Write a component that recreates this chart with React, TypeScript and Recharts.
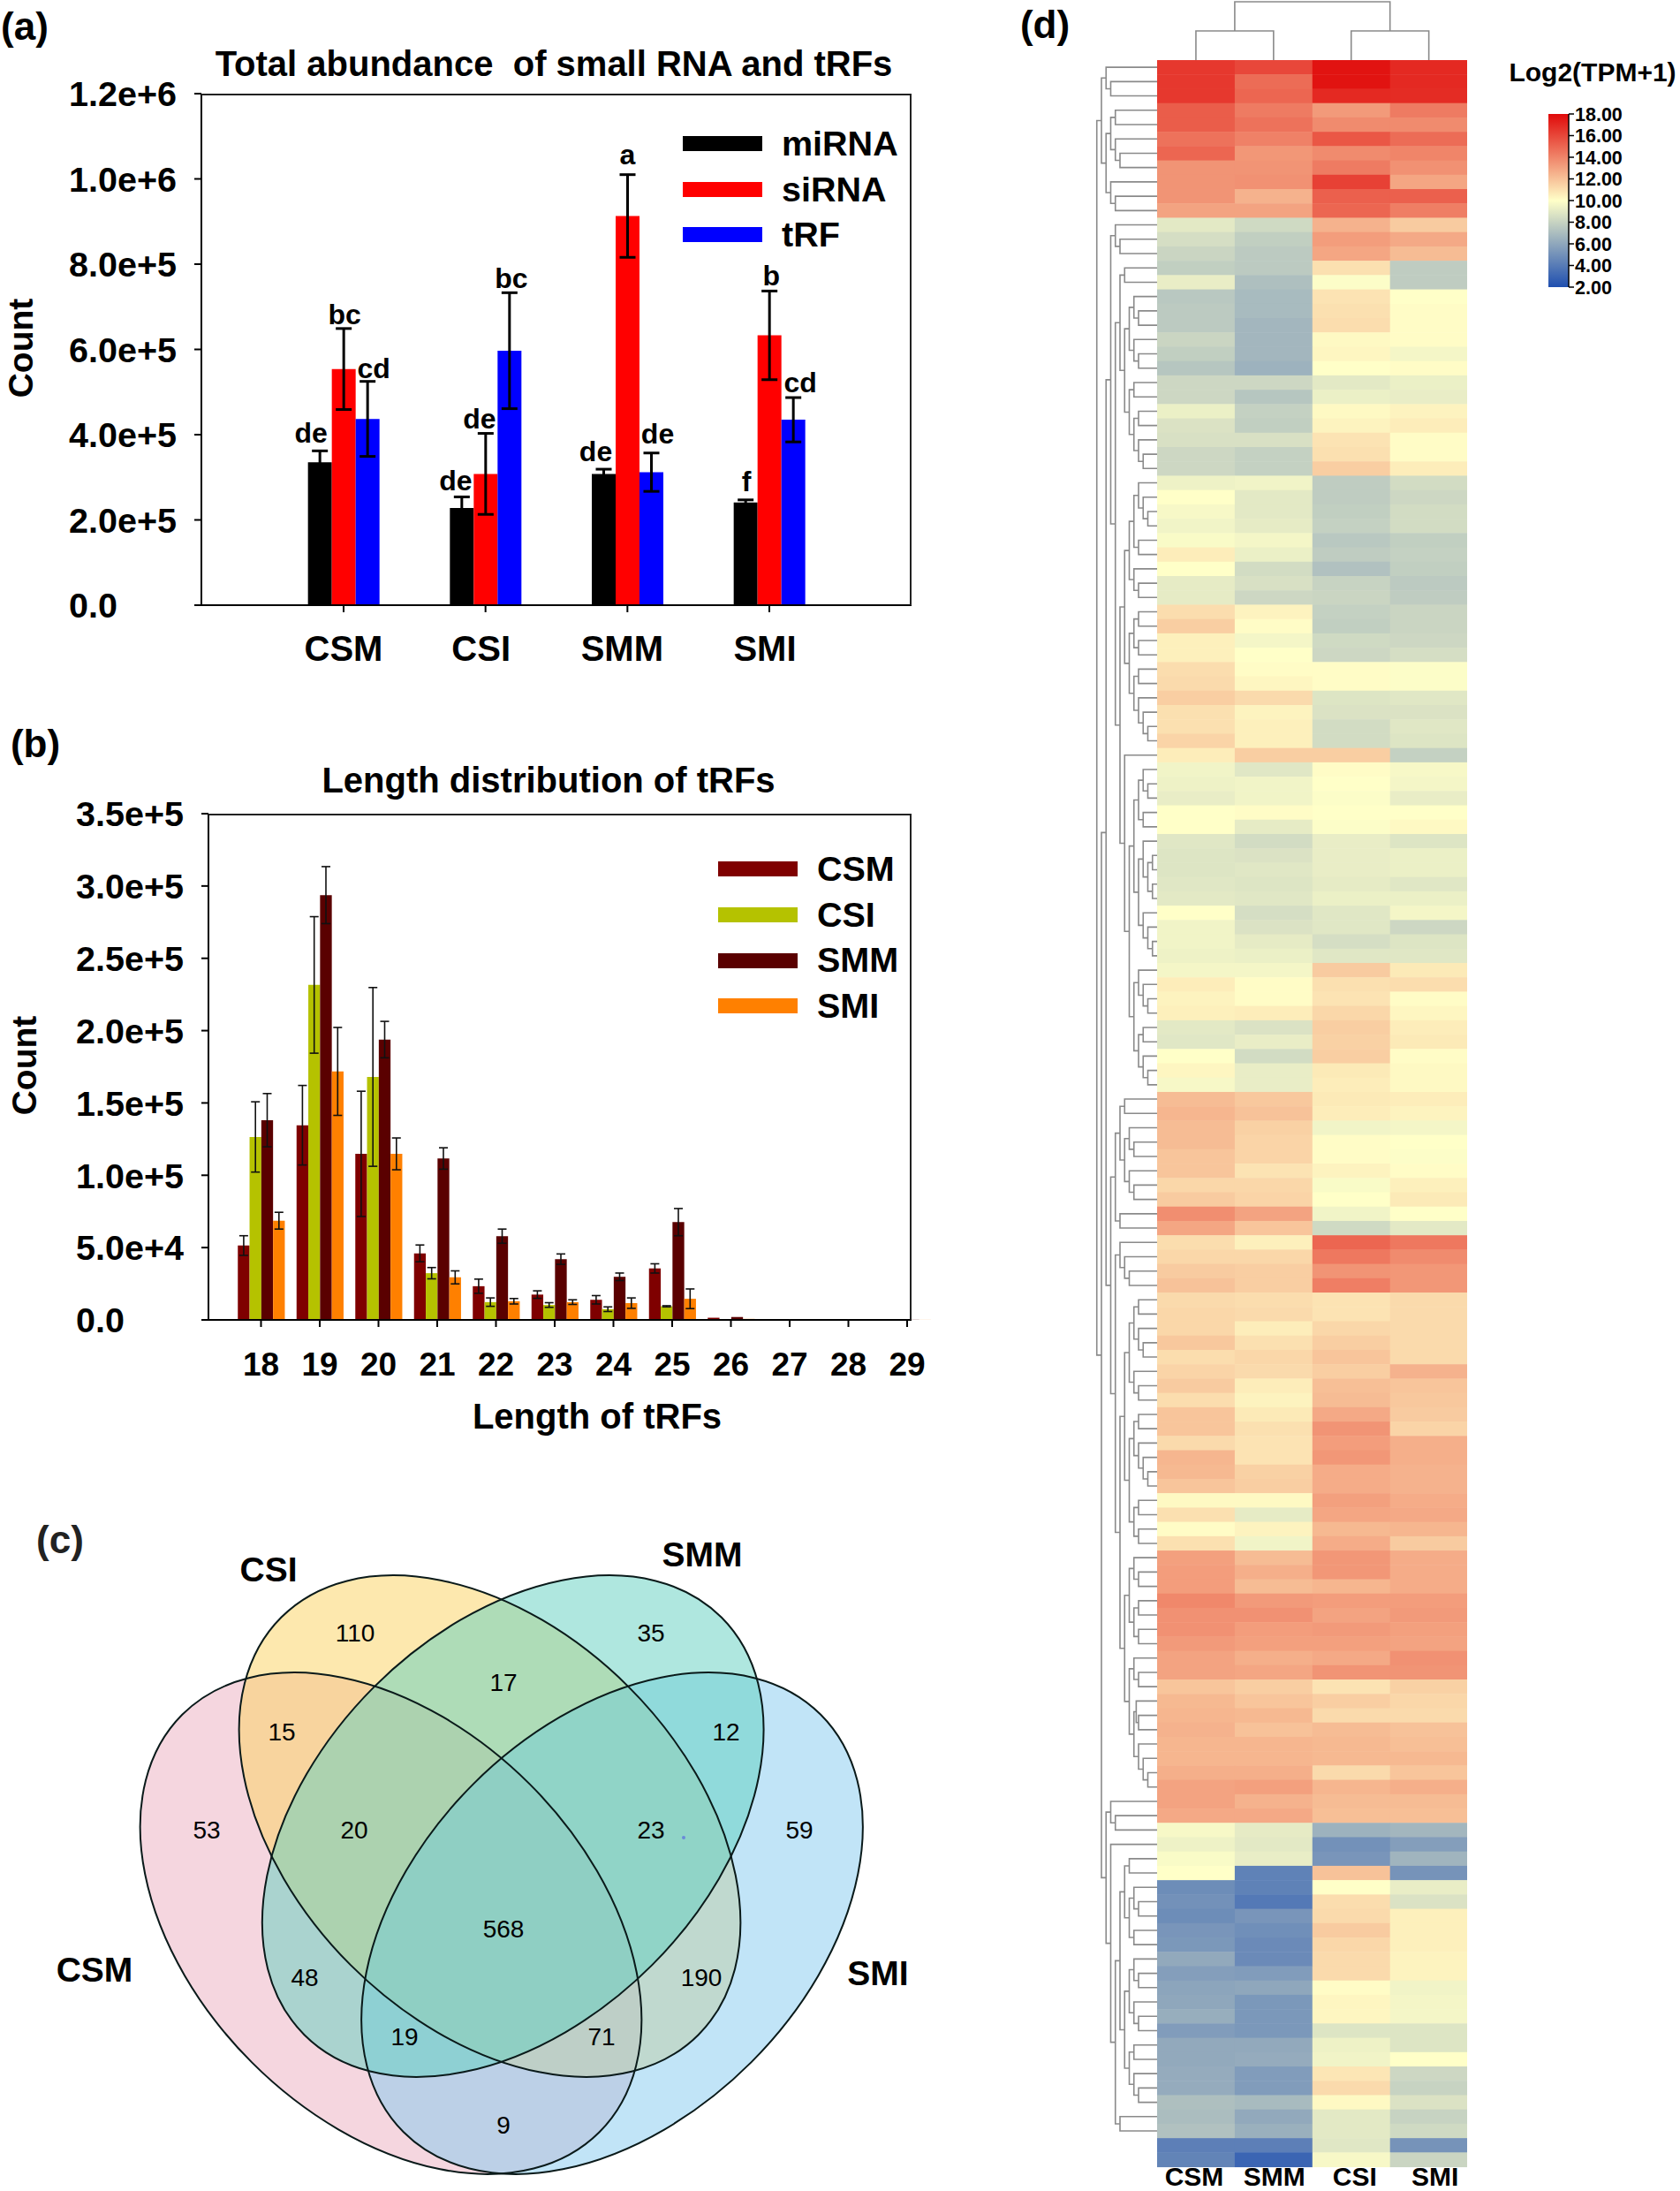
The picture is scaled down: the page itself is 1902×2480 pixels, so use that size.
import {
  BarChart, Bar, XAxis, YAxis, ErrorBar, LabelList, Legend,
  ScatterChart, Scatter, LineChart, Line
} from 'recharts'

const FONT = '"Liberation Sans", Arial, sans-serif'

// panel (a)
const samples = ['CSM', 'CSI', 'SMM', 'SMI']
const miRNA = [335000, 228000, 308000, 241000]
const siRNA = [554000, 308000, 913000, 633000]
const tRF = [437000, 597000, 312000, 435000]
const miRNAErr = [27000, 26000, 11000, 6000]
const siRNAErr = [95000, 95000, 97000, 104000]
const tRFErr = [88000, 136000, 45000, 52000]
const miRNALetters = ['de', 'de', 'de', 'f']
const siRNALetters = ['bc', 'de', 'a', 'b']
const tRFLetters = ['cd', 'bc', 'de', 'cd']
const miRNALetterAt = [382000, 269000, 338000, 267000]
const siRNALetterAt = [660000, 415000, 1034000, 750000]
const tRFLetterAt = [533000, 745000, 379000, 500000]
const abundanceTicks = [0, 200000, 400000, 600000, 800000, 1000000, 1200000]
const abundanceLabels = ['0.0', '2.0e+5', '4.0e+5', '6.0e+5', '8.0e+5', '1.0e+6', '1.2e+6']

// panel (b)
const lengths = ['18', '19', '20', '21', '22', '23', '24', '25', '26', '27', '28', '29']
const lenCSM = [51400, 134600, 114800, 46000, 23300, 17500, 13900, 35600, 1500, 300, 200, 100]
const lenCSI = [126500, 231600, 168000, 32300, 12300, 10300, 7400, 9400, 500, 100, 100, 100]
const lenSMM = [138100, 293700, 193800, 111600, 57900, 42000, 29800, 67600, 2000, 400, 300, 100]
const lenSMI = [68600, 171800, 114800, 29400, 12900, 12300, 11600, 14600, 700, 100, 100, 50]
const lenCSMErr = [6800, 27500, 43300, 5800, 4900, 2600, 2900, 3200, null, null, null, null]
const lenCSIErr = [24300, 47200, 61800, 3900, 2900, 1600, 1600, 400, null, null, null, null]
const lenSMMErr = [18400, 19700, 12600, 7400, 4900, 3600, 2600, 9400, null, null, null, null]
const lenSMIErr = [5800, 30400, 11000, 4500, 1900, 1600, 3600, 6800, null, null, null, null]
const lengthTicks = [0, 50000, 100000, 150000, 200000, 250000, 300000, 350000]
const lengthLabels = ['0.0', '5.0e+4', '1.0e+5', '1.5e+5', '2.0e+5', '2.5e+5', '3.0e+5', '3.5e+5']

// panel (c), fills are painted in this order
const vennSets = [
  { name: 'CSM', x: 442.5, y: 2177, tilt: 45, color: '#EBADBF' },
  { name: 'CSI', x: 554.5, y: 2067, tilt: 45, color: '#FBD15D' },
  { name: 'SMI', x: 693, y: 2177, tilt: -45, color: '#83C9EF' },
  { name: 'SMM', x: 580.7, y: 2067, tilt: -45, color: '#60CFC0' },
]
const vennCounts = [
  { label: '110', x: 402, y: 1848 }, { label: '35', x: 737, y: 1848 },
  { label: '17', x: 570, y: 1904 }, { label: '15', x: 319, y: 1960 },
  { label: '12', x: 822, y: 1960 }, { label: '53', x: 234, y: 2071 },
  { label: '20', x: 401, y: 2071 }, { label: '23', x: 737, y: 2071 },
  { label: '59', x: 905, y: 2071 }, { label: '568', x: 570, y: 2183 },
  { label: '48', x: 345, y: 2238 }, { label: '190', x: 794, y: 2238 },
  { label: '19', x: 458, y: 2305 }, { label: '71', x: 681, y: 2305 },
  { label: '9', x: 570, y: 2405 },
]
const vennNames = [
  { label: 'CSI', x: 304, y: 1776 }, { label: 'SMM', x: 795, y: 1759 },
  { label: 'CSM', x: 107, y: 2229 }, { label: 'SMI', x: 994, y: 2233 },
]
const vennSpeck = [{ x: 774, y: 2080 }]

// panel (d), rows top to bottom, columns in heatColumns order
const heatColumns = ['CSM', 'SMM', 'CSI', 'SMI']
const heatValues = [
  [16.5, 16, 17.7, 17], [16.5, 14.8, 17.7, 17], [16.5, 15, 17, 16.9], [15.3, 14.3, 13.3, 14.3],
  [15.3, 14.6, 13.8, 13.8], [14.6, 14.1, 15.5, 14.8], [15, 13.4, 13.8, 14], [13.5, 13.5, 14.3, 13.6],
  [13.5, 13.6, 16.2, 12.9], [13.5, 12.5, 15.2, 15.2], [13, 13, 15, 14.2], [9, 8.3, 12.5, 11.7],
  [8.5, 7.8, 13.2, 12.8], [8.1, 7.6, 12.9, 12.2], [7.8, 7.6, 11, 7.7], [9.2, 7.1, 9.9, 7.7],
  [7.5, 6.9, 10.9, 10], [7.6, 6.9, 11, 10.1], [7.6, 6.7, 11.1, 10.1], [8.1, 6.7, 10.2, 10.1],
  [7.8, 6.7, 10.3, 9.6], [7.4, 6.5, 10, 10.1], [8.2, 8.2, 9, 9.3], [8.2, 7.4, 9.3, 9.2],
  [9.3, 7.9, 10.2, 10.4], [8.7, 7.8, 10.4, 10.6], [8.6, 8.6, 10.9, 10.1], [8.2, 7.9, 11, 10.1],
  [8.2, 7.9, 11.6, 10.6], [9.4, 9.5, 7.7, 8.4], [10, 9, 7.7, 8.2], [9.7, 9, 7.8, 8.4],
  [9.5, 9.1, 7.9, 8.4], [9.8, 9.6, 7.5, 7.8], [10.6, 9.3, 7.7, 7.9], [10, 8.4, 7.2, 7.8],
  [9.1, 8.6, 8, 7.6], [9.1, 8.2, 8.1, 7.7], [11.1, 10.4, 7.9, 8.1], [11.6, 10.1, 7.8, 8.1],
  [10.5, 9.6, 8.3, 8.2], [10.5, 10, 8.2, 8.5], [11.1, 10.1, 10.1, 9.9], [11.2, 10.3, 10.1, 9.9],
  [11.6, 11.2, 8.8, 8.9], [11, 10.4, 8.7, 8.7], [11, 10.5, 8.4, 8.9], [11.4, 10.5, 8.4, 8.8],
  [10.6, 11.6, 11.6, 7.9], [9.5, 8.9, 10.1, 9.7], [9.4, 9.5, 10, 9.6], [9.2, 9.5, 9.9, 9.2],
  [10, 10.1, 10, 10], [10, 9.1, 9.9, 10.2], [8.9, 8.4, 9.2, 8.8], [8.8, 8.7, 9.2, 9.3],
  [8.8, 8.9, 9.2, 9.3], [8.9, 8.8, 9.1, 8.9], [9, 8.9, 9.3, 9.3], [10, 8.5, 8.9, 9.6],
  [9.5, 8.7, 8.9, 8.2], [9.5, 9.1, 8.5, 8.8], [9.4, 9.3, 8.9, 8.9], [9.6, 9.6, 11.7, 10.7],
  [10.6, 10.1, 11, 11.1], [10.4, 10.1, 10.9, 10.1], [10.5, 10.6, 11.3, 10.3], [9, 8.7, 11.6, 10.6],
  [8.9, 9.2, 11.5, 10.7], [10, 8.4, 11.6, 10.1], [10.3, 9.2, 10.7, 10.2], [9.7, 9.2, 10.6, 10.2],
  [12.2, 11.8, 10.7, 10.6], [12.4, 12, 10.6, 10.4], [12.2, 11.5, 9.5, 9.6], [12.2, 11.4, 10.1, 10],
  [11.9, 11.4, 10.1, 9.9], [11.9, 10.9, 10.4, 10.1], [11.3, 11.3, 9.8, 10.5], [11.7, 11.4, 10, 10.7],
  [13.7, 13, 9.5, 10], [12.9, 11.9, 8.3, 9], [11.1, 10.5, 15, 14.4], [11.3, 11.3, 14.4, 13.8],
  [11.7, 11.6, 13.5, 13.4], [12, 11.6, 14.2, 13.4], [11.2, 11.1, 10.9, 11.2], [11.3, 11.2, 10.9, 11.2],
  [11.3, 10.6, 11.3, 11.2], [11.8, 11, 11.6, 11.2], [11.1, 11.3, 11.9, 11.2], [11.4, 11.2, 11.6, 12.5],
  [11.7, 10.6, 12.1, 11.9], [11.1, 10.4, 12.2, 11.8], [11.9, 10.7, 12.8, 11.7], [11.9, 11, 13.5, 11.4],
  [11.2, 10.9, 13.2, 12.6], [12.4, 10.9, 13.4, 12.6], [12.3, 11.5, 12.7, 12.5], [11.9, 11.6, 12.7, 12.5],
  [10.2, 10.2, 13.1, 12.7], [11, 9.1, 12.9, 12.8], [10.1, 10.4, 12.3, 12.4], [11, 9.5, 12.7, 11.7],
  [13.1, 12.2, 13.4, 12.7], [13.2, 12.6, 13.4, 12.7], [13.2, 12.2, 12.4, 12.7], [13.9, 13.3, 13.2, 13.2],
  [13.6, 13.6, 13, 13.3], [13.6, 13.2, 13.3, 13.1], [13.3, 13.1, 13.1, 13], [13, 12.6, 12.8, 13.6],
  [13, 12.9, 13.5, 13.5], [11.9, 11.6, 10.9, 11.5], [12.3, 11.9, 11.6, 11.3], [12.4, 12.3, 11.2, 11.2],
  [12.5, 12, 12.2, 12], [12.4, 12.4, 12.3, 12.1], [12.4, 12.4, 12.3, 12.3], [12.6, 12.6, 11.2, 11.9],
  [13, 13.1, 12.4, 12.6], [13, 12.5, 12.2, 12.2], [12.8, 12.8, 12.1, 12.1], [9.7, 9.1, 6.5, 6.7],
  [9.4, 9, 5, 5.6], [9.8, 9.2, 5.2, 6.6], [10, 4.3, 12, 5.1], [4.8, 4.3, 10, 9.2],
  [5, 3.9, 11.1, 8.7], [4.8, 5.2, 11.2, 10.5], [5.2, 4.9, 11.7, 10.5], [5.3, 4.7, 11.3, 10.5],
  [6.1, 4.7, 11.2, 10.4], [5.6, 5.5, 11.2, 10.4], [5.9, 6, 10.1, 9.5], [6, 5.3, 10.3, 9.6],
  [6.3, 5.3, 10.3, 9.6], [5.5, 5.3, 8.8, 8.8], [6.1, 6.1, 9.4, 8.8], [6.1, 6.2, 9.5, 10],
  [6.2, 5.5, 10.8, 8.2], [6.2, 5.5, 11.2, 8], [7.1, 6.9, 10.2, 8.7], [7, 6.1, 9, 8],
  [7.2, 6.4, 9, 8.3], [4.2, 4.2, 8.9, 5.1], [4.4, 3, 9.7, 8.1],
]
const colorbarTicks = [2, 4, 6, 8, 10, 12, 14, 16, 18]

// dendrograms: [merge level, child, child], 0 is a leaf, leaves run in row order
type Tree = number | Tree[]
const rowTree: Tree = [13,
  [12, [11, 0, [10, 0, 0]], [11, [10, [9, 0, 0], [9, 0, [8, 0, 0]]], [10, 0, [9, 0, 0]]]],
  [12,
    [11,
      [10, [9, 0, [8, 0, 0]],
        [9,
          [8, [7, 0, 0], [7, [6, [5, 0, [4, 0, 0]], [5, 0, [4, 0, 0]]], [6, [5, 0, 0], [5, [4, 0, 0], [4, 0, [3, 0, 0]]]]]],
          [8,
            [7,
              [6, [5, [4, 0, [3, 0, [2, 0, 0]]], [4, 0, 0]], [5, 0, [4, 0, 0]]],
              [6, [5, [4, 0, 0], [4, 0, 0]], [5, [4, 0, 0], [4, 0, [3, 0, [2, 0, 0]]]]]],
            [7, 0,
              [6,
                [5, [4, [3, 0, [2, 0, 0]], [3, 0, 0]], [4, [3, 0, [2, [1, 0, 0], [1, 0, 0]]], [3, 0, [2, 0, [1, 0, 0]]]]],
                [5, [4, 0, [3, 0, [2, 0, 0]]], [4, [3, 0, 0], [3, 0, [2, 0, 0]]]]]]]]],
      [10,
        [9, [8, [7, 0, 0], [7, [6, 0, [5, 0, 0]], [6, 0, [5, 0, 0]]]], [8, 0, 0]],
        [9,
          [8, 0, [7, 0, [6, 0, 0]]],
          [8,
            [7,
              [6, [5, [4, 0, 0], [4, 0, [3, 0, 0]]], [5, 0, [4, 0, 0]]],
              [6, [5, [4, 0, 0], [4, 0, [3, 0, [2, 0, 0]]]], [5, [4, 0, 0], [4, 0, 0]]]],
            [7,
              [6, [5, 0, [4, 0, 0]], [5, [4, 0, 0], [4, 0, 0]]],
              [6, [5, 0, [4, 0, 0]], [5, [4.5, 0, [4, 0, 0]], [4, 0, [3, 0, [2, 0, 0]]]]]]]]]],
    [11,
      [10, 0, [9, 0, 0]],
      [10, 0,
        [9,
          [8,
            [7, [6, 0, 0], [6, [5, 0, [4, 0, 0]], [5, 0, 0]]],
            [7,
              [6, [5, 0, [4, 0, 0]], [5, 0, [4, 0, 0]]],
              [6, [5, 0, 0], [5, 0, [4, 0, 0]]]]],
          [8, 0, 0]]]]]]
const columnTree: Tree = [2, [1, 0, 0], [1, 0, 0]]

// colour stops of the heat scale
const scaleStops = [
  { at: 2, rgb: [31, 79, 176] },
  { at: 10, rgb: [255, 255, 200] },
  { at: 18, rgb: [224, 10, 10] },
]

const heatColor = (v: number) => {
  const [lo, hi] = v < 10 ? [scaleStops[0], scaleStops[1]] : [scaleStops[1], scaleStops[2]]
  const t = (v - lo.at) / (hi.at - lo.at)
  const c = lo.rgb.map((a, i) => Math.round(a + (hi.rgb[i] - a) * t))
  return `rgb(${c[0]},${c[1]},${c[2]})`
}

const abundanceData = samples.map((sample, i) => ({
  sample,
  miRNA: miRNA[i], siRNA: siRNA[i], tRF: tRF[i],
  miRNAErr: miRNAErr[i], siRNAErr: siRNAErr[i], tRFErr: tRFErr[i],
}))
const abundanceSeries = [
  { key: 'miRNA', color: '#000000', values: miRNA, letters: miRNALetters, at: miRNALetterAt, nudge: [-10, -7, -9, 1] },
  { key: 'siRNA', color: '#FF0000', values: siRNA, letters: siRNALetters, at: siRNALetterAt, nudge: [1, -7, 0, 2] },
  { key: 'tRF', color: '#0000FF', values: tRF, letters: tRFLetters, at: tRFLetterAt, nudge: [7, 2, 7, 8] },
]
const lengthData = lengths.map((len, i) => ({
  len,
  CSM: lenCSM[i], CSI: lenCSI[i], SMM: lenSMM[i], SMI: lenSMI[i],
  CSMErr: lenCSMErr[i], CSIErr: lenCSIErr[i], SMMErr: lenSMMErr[i], SMIErr: lenSMIErr[i],
}))
const lengthSeries = [
  { key: 'CSM', color: '#7F0000' },
  { key: 'CSI', color: '#B5C200' },
  { key: 'SMM', color: '#5A0000' },
  { key: 'SMI', color: '#FF8000' },
]
const heatData = heatValues.flatMap((row, r) => row.map((value, c) => ({ col: c, row: r, value })))

// turns a merge tree into one polyline, with gaps between the brackets
const flattenTree = (tree: Tree, swap = false) => {
  const pts: { x: number; y: number | null }[] = []
  let leaf = 0
  const push = (level: number, pos: number) =>
    pts.push(swap ? { x: pos, y: level } : { x: level, y: pos })
  const walk = (node: Tree): [number, number] => {
    if (typeof node === 'number') return [0, leaf++]
    const [level, a, b] = node as [number, Tree, Tree]
    const [la, pa] = walk(a)
    const [lb, pb] = walk(b)
    push(la, pa); push(level, pa); push(level, pb); push(lb, pb)
    const last = pts[pts.length - 1]
    pts.push({ x: last.x, y: null })
    return [level, (pa + pb) / 2]
  }
  walk(tree)
  return pts
}
const rowTreePoints = flattenTree(rowTree)
const columnTreePoints = flattenTree(columnTree, true)

function Txt({ x, y, size, rotate = 0, weight = 700, color = '#000', children }: any) {
  return (
    <div style={{
      position: 'absolute', left: x, top: y, whiteSpace: 'pre', lineHeight: 1,
      transform: `translate(-50%,-50%) rotate(${rotate}deg)`,
      fontFamily: FONT, fontSize: size, fontWeight: weight, color,
    }}>{children}</div>
  )
}

const leftTick = (ticks: number[], labels: string[], labelX: number) => ({ y, payload }: any) => (
  <text x={labelX} y={y} dy="0.36em" textAnchor="start" fontFamily={FONT} fontSize={39.5} fontWeight={700} fill="#000">
    {labels[ticks.indexOf(payload.value)]}
  </text>
)

const bottomTick = (nudge: number[], dy: number, size: number) => ({ x, y, payload, index }: any) => (
  <text x={x + (nudge[index] || 0)} y={y + dy} dy="0.36em" textAnchor="middle" fontFamily={FONT} fontSize={size} fontWeight={700} fill="#000">
    {payload.value}
  </text>
)

const swatchLegend = (series: { key: string; color: string }[], rowH: number) => () => (
  <div>
    {series.map(s => (
      <div key={s.key} style={{ display: 'flex', alignItems: 'center', height: rowH }}>
        <div style={{ width: 90, height: 17, background: s.color }} />
        <div style={{ marginLeft: 22, fontFamily: FONT, fontSize: 39.5, fontWeight: 700, color: '#000', lineHeight: 1 }}>{s.key}</div>
      </div>
    ))}
  </div>
)

const letterLabel = (s: typeof abundanceSeries[number]) => (props: any) => {
  const { x, y, width, height, index } = props
  const base = y + height
  const ly = base - s.at[index] * (height / s.values[index])
  return (
    <text x={x + width / 2 + s.nudge[index]} y={ly} textAnchor="middle" fontFamily={FONT} fontSize={32} fontWeight={700} fill="#000">
      {s.letters[index]}
    </text>
  )
}

const VennFill = ({ cx, cy, payload }: any) => (
  <ellipse cx={cx} cy={cy} rx={334} ry={222.6} transform={`rotate(${payload.tilt} ${cx} ${cy})`}
    fill={payload.color} fillOpacity={0.5} stroke="none" />
)
const VennOutline = ({ cx, cy, payload }: any) => (
  <ellipse cx={cx} cy={cy} rx={334} ry={222.6} transform={`rotate(${payload.tilt} ${cx} ${cy})`}
    fill="none" stroke="#0a1a1a" strokeWidth={2} />
)
const vennText = (size: number, weight: number) => ({ cx, cy, payload }: any) => (
  <text x={cx} y={cy} dy="0.36em" textAnchor="middle" fontFamily={FONT} fontSize={size} fontWeight={weight} fill="#000">
    {payload.label}
  </text>
)
const VennSpeck = ({ cx, cy }: any) => <circle cx={cx} cy={cy} r={2} fill="#6A8AD8" />

const HEAT_W = 351.6
const HEAT_H = 2384.6
const HeatCell = ({ cx, cy, payload }: any) => {
  const w = HEAT_W / heatColumns.length
  const h = HEAT_H / heatValues.length
  return <rect x={cx - w / 2} y={cy - h / 2} width={w + 0.4} height={h + 0.5} fill={heatColor(payload.value)} />
}

export default function App() {
  return (
    <div style={{ position: 'absolute', left: 0, top: 0, width: 1902, height: 2480, background: '#fff', overflow: 'hidden' }}>
      {/* (a) */}
      <div style={{ position: 'absolute', left: 0, top: 0 }}>
        <BarChart width={1060} height={790} data={abundanceData} barGap={0}
          margin={{ top: 106, right: 28, bottom: 0, left: 0 }}>
          <XAxis dataKey="sample" scale="point" padding={{ left: 161, right: 161 }} height={105}
            tickSize={8} stroke="#000" strokeWidth={2} tick={bottomTick([0, -5, -6, -5], 39, 40)} />
          <YAxis width={228} domain={[0, 1200000]} ticks={abundanceTicks} interval={0}
            tickSize={8} stroke="#000" strokeWidth={2} tick={leftTick(abundanceTicks, abundanceLabels, 78)} />
          <Legend layout="vertical" align="center" verticalAlign="middle"
            wrapperStyle={{ left: 773, top: 137, width: 260 }}
            content={swatchLegend(abundanceSeries, 51.5)} />
          {abundanceSeries.map(s => (
            <Bar key={s.key} dataKey={s.key} fill={s.color} barSize={27} isAnimationActive={false}>
              <ErrorBar dataKey={`${s.key}Err`} width={9} strokeWidth={3} stroke="#000" direction="y" />
              <LabelList content={letterLabel(s)} />
            </Bar>
          ))}
        </BarChart>
      </div>
      <div style={{ position: 'absolute', left: 228, top: 106, width: 804, height: 579, boxSizing: 'border-box', borderTop: '2px solid #222', borderRight: '2px solid #222' }} />
      <Txt x={28} y={30} size={44}>(a)</Txt>
      <Txt x={627} y={72} size={40}>Total abundance  of small RNA and tRFs</Txt>
      <Txt x={23} y={394} size={39} rotate={-90}>Count</Txt>

      {/* (b) */}
      <div style={{ position: 'absolute', left: 0, top: 810 }}>
        <BarChart width={1060} height={830} data={lengthData} barGap={0}
          margin={{ top: 111, right: 28, bottom: 0, left: 0 }}>
          <XAxis dataKey="len" scale="point" padding={{ left: 59.5, right: 5 }} height={146} interval={0}
            tickSize={8} stroke="#000" strokeWidth={2} tick={bottomTick([], 40, 37)} />
          <YAxis width={236} domain={[0, 350000]} ticks={lengthTicks} interval={0}
            tickSize={8} stroke="#000" strokeWidth={2} tick={leftTick(lengthTicks, lengthLabels, 86)} />
          <Legend layout="vertical" align="center" verticalAlign="middle"
            wrapperStyle={{ left: 813, top: 148, width: 240 }}
            content={swatchLegend(lengthSeries, 51.7)} />
          {lengthSeries.map(s => (
            <Bar key={s.key} dataKey={s.key} fill={s.color} barSize={13.3} isAnimationActive={false}>
              <ErrorBar dataKey={`${s.key}Err`} width={5} strokeWidth={1.6} stroke="#111" direction="y" />
            </Bar>
          ))}
        </BarChart>
      </div>
      <div style={{ position: 'absolute', left: 236, top: 921, width: 796, height: 573, boxSizing: 'border-box', borderTop: '2px solid #222', borderRight: '2px solid #222' }} />
      <Txt x={40} y={842} size={44}>(b)</Txt>
      <Txt x={621} y={883} size={40}>Length distribution of tRFs</Txt>
      <Txt x={27} y={1206} size={39} rotate={-90}>Count</Txt>
      <Txt x={676} y={1603} size={40}>Length of tRFs</Txt>

      {/* (c) */}
      <div style={{ position: 'absolute', left: 0, top: 1700 }}>
        <ScatterChart width={1100} height={780} margin={{ top: 0, right: 0, bottom: 0, left: 0 }}>
          <XAxis type="number" dataKey="x" domain={[0, 1100]} hide />
          <YAxis type="number" dataKey="y" domain={[1700, 2480]} reversed hide />
          <Scatter data={vennSets} shape={VennFill} isAnimationActive={false} />
          <Scatter data={vennSets} shape={VennOutline} isAnimationActive={false} />
          <Scatter data={vennSpeck} shape={VennSpeck} isAnimationActive={false} />
          <Scatter data={vennCounts} shape={vennText(28, 400)} isAnimationActive={false} />
          <Scatter data={vennNames} shape={vennText(39, 700)} isAnimationActive={false} />
        </ScatterChart>
      </div>
      <Txt x={68} y={1743} size={44} color="#222">(c)</Txt>

      {/* (d) */}
      <div style={{ position: 'absolute', left: 1309.7, top: 0 }}>
        <LineChart width={HEAT_W} height={68} data={columnTreePoints} margin={{ top: 0, right: 0, bottom: 0, left: 0 }}>
          <XAxis type="number" dataKey="x" domain={[-0.5, 3.5]} hide />
          <YAxis type="number" domain={[0, 2.06]} hide />
          <Line dataKey="y" stroke="#8a8a8a" strokeWidth={1.6} dot={false} isAnimationActive={false} />
        </LineChart>
      </div>
      <div style={{ position: 'absolute', left: 1240, top: 67.7 }}>
        <LineChart width={70} height={HEAT_H} data={rowTreePoints} margin={{ top: 0, right: 0, bottom: 0, left: 0 }}>
          <XAxis type="number" dataKey="x" domain={[0, 13.33]} reversed hide />
          <YAxis type="number" domain={[-0.5, 146.5]} reversed hide />
          <Line dataKey="y" stroke="#8a8a8a" strokeWidth={1.6} dot={false} isAnimationActive={false} />
        </LineChart>
      </div>
      <div style={{ position: 'absolute', left: 1309.7, top: 67.7 }}>
        <ScatterChart width={HEAT_W} height={HEAT_H + 28} margin={{ top: 0, right: 0, bottom: 0, left: 0 }}>
          <XAxis type="number" dataKey="col" domain={[-0.5, 3.5]} ticks={[0, 1, 2, 3]} height={28}
            axisLine={false} tickLine={false}
            tick={({ x, y, index }: any) => (
              <text x={x + [-2, 1, 4, 7][index]} y={y + 3} dy="0.36em" textAnchor="middle" fontFamily={FONT} fontSize={30} fontWeight={700} fill="#000">
                {heatColumns[index]}
              </text>
            )} />
          <YAxis type="number" dataKey="row" domain={[-0.5, 146.5]} reversed hide />
          <Scatter data={heatData} shape={HeatCell} isAnimationActive={false} />
        </ScatterChart>
      </div>
      <Txt x={1183} y={28} size={44}>(d)</Txt>
      <Txt x={1803} y={82} size={30}>Log2(TPM+1)</Txt>

      {/* colour bar */}
      <div style={{ position: 'absolute', left: 1752.7, top: 105 }}>
        <BarChart width={120} height={240} data={[{ range: [2, 18] }]} barCategoryGap={0}
          margin={{ top: 24, right: 0, bottom: 20, left: 0 }}>
          <defs>
            <linearGradient id="heatScale" x1="0" y1="0" x2="0" y2="1">
              {[...scaleStops].reverse().map(s => (
                <stop key={s.at} offset={(18 - s.at) / 16} stopColor={`rgb(${s.rgb.join(',')})`} />
              ))}
            </linearGradient>
          </defs>
          <XAxis hide />
          <YAxis orientation="right" width={97} domain={[2, 18]} ticks={colorbarTicks} interval={0}
            tickSize={6} tickMargin={1} stroke="#000" strokeWidth={1.5}
            tickFormatter={(v: number) => v.toFixed(2)}
            tick={{ fontFamily: FONT, fontSize: 21.5, fontWeight: 700, fill: '#000' }} />
          <Bar dataKey="range" fill="url(#heatScale)" isAnimationActive={false} />
        </BarChart>
      </div>
    </div>
  )
}
